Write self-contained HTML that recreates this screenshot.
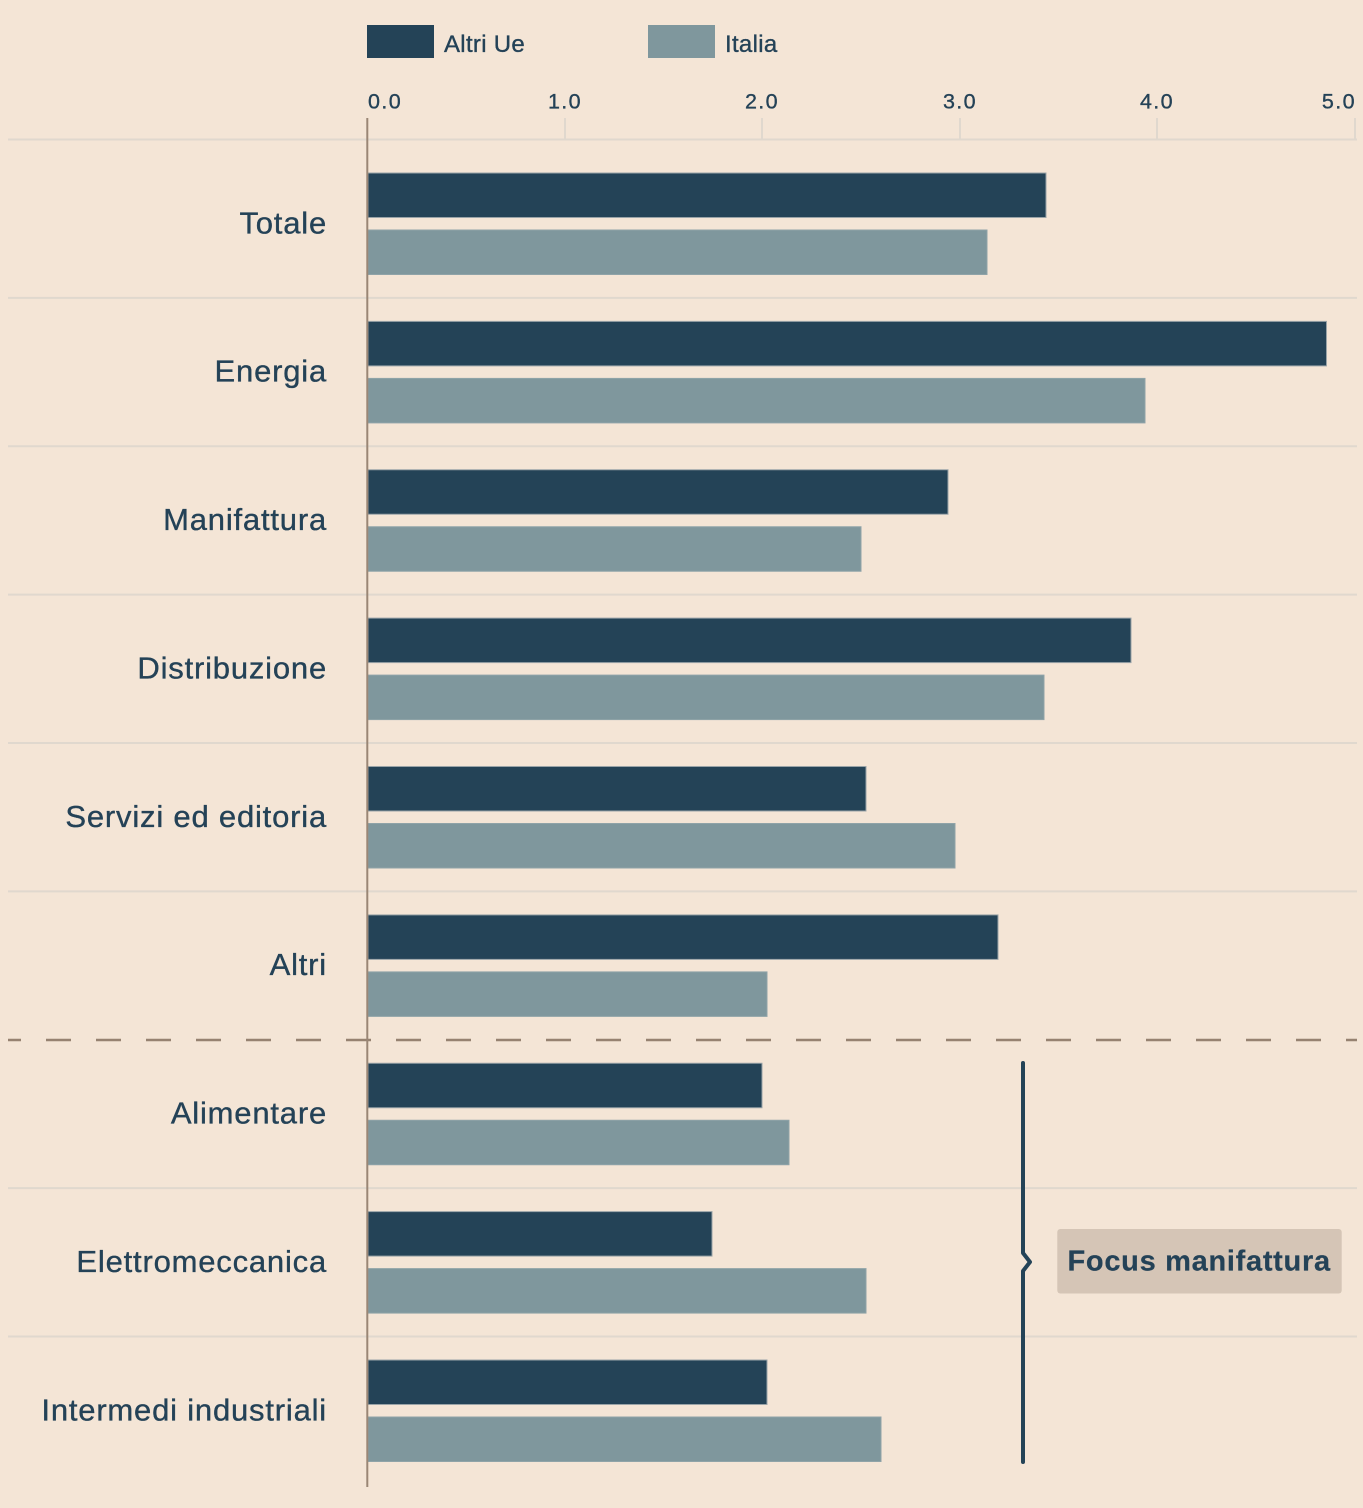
<!DOCTYPE html>
<html><head><meta charset="utf-8"><style>
html,body{margin:0;padding:0;background:#f4e5d6;}
svg{display:block;}
text{font-family:"Liberation Sans",Arial,sans-serif;fill:#244257;stroke:#244257;stroke-width:0.35px;}
.cat{font-size:31px;letter-spacing:0.8px;text-anchor:end;}
.tick{font-size:21.5px;letter-spacing:1.4px;}
.leg{font-size:24px;letter-spacing:0.3px;}
</style></head><body>
<svg width="1363" height="1508" viewBox="0 0 1363 1508" xmlns="http://www.w3.org/2000/svg">
<rect x="0" y="0" width="1363" height="1508" fill="#f4e5d6"/>
<!-- legend -->
<rect x="367" y="25" width="67" height="33" fill="#244357"/>
<text class="leg" x="444" y="52">Altri Ue</text>
<rect x="648" y="25" width="67" height="33" fill="#7f979d"/>
<text class="leg" x="725" y="52">Italia</text>
<!-- tick labels -->
<text class="tick" x="368" y="108.5">0.0</text>
<text class="tick" x="565" y="108.5" text-anchor="middle">1.0</text>
<text class="tick" x="762" y="108.5" text-anchor="middle">2.0</text>
<text class="tick" x="960" y="108.5" text-anchor="middle">3.0</text>
<text class="tick" x="1157" y="108.5" text-anchor="middle">4.0</text>
<text class="tick" x="1356" y="108.5" text-anchor="end">5.0</text>
<!-- tick marks -->
<g stroke="#e0d8ce" stroke-width="2">
<line x1="565" y1="118" x2="565" y2="140"/>
<line x1="762" y1="118" x2="762" y2="140"/>
<line x1="960" y1="118" x2="960" y2="140"/>
<line x1="1157" y1="118" x2="1157" y2="140"/>
<line x1="1355" y1="118" x2="1355" y2="140"/>
</g>
<!-- gridlines -->
<g stroke="#e0d8ce" stroke-width="2">
<line x1="8" y1="139.5" x2="1357" y2="139.5"/>
<line x1="8" y1="297.9" x2="1357" y2="297.9"/>
<line x1="8" y1="446.3" x2="1357" y2="446.3"/>
<line x1="8" y1="594.6" x2="1357" y2="594.6"/>
<line x1="8" y1="743" x2="1357" y2="743"/>
<line x1="8" y1="891.4" x2="1357" y2="891.4"/>
<line x1="8" y1="1188.1" x2="1357" y2="1188.1"/>
<line x1="8" y1="1336.5" x2="1357" y2="1336.5"/>
</g>
<!-- dashed separator -->
<line x1="8" y1="1040" x2="1357" y2="1040" stroke="#968271" stroke-width="2.5" stroke-dasharray="25 25" stroke-dashoffset="12"/>
<!-- bars -->
<g stroke="#9aa4a8" stroke-width="1">
<rect x="368" y="173" width="678" height="44.5" fill="#244357"/>
<rect x="368" y="230" width="619" height="44.5" fill="#7f979d" stroke="#8fa3a8"/>
<rect x="368" y="321.4" width="958.5" height="44.5" fill="#244357"/>
<rect x="368" y="378.4" width="777" height="44.5" fill="#7f979d" stroke="#8fa3a8"/>
<rect x="368" y="469.75" width="580" height="44.5" fill="#244357"/>
<rect x="368" y="526.75" width="493" height="44.5" fill="#7f979d" stroke="#8fa3a8"/>
<rect x="368" y="618.1" width="763" height="44.5" fill="#244357"/>
<rect x="368" y="675.1" width="676" height="44.5" fill="#7f979d" stroke="#8fa3a8"/>
<rect x="368" y="766.5" width="498" height="44.5" fill="#244357"/>
<rect x="368" y="823.5" width="587" height="44.5" fill="#7f979d" stroke="#8fa3a8"/>
<rect x="368" y="914.9" width="630" height="44.5" fill="#244357"/>
<rect x="368" y="971.9" width="399" height="44.5" fill="#7f979d" stroke="#8fa3a8"/>
<rect x="368" y="1063.25" width="394" height="44.5" fill="#244357"/>
<rect x="368" y="1120.25" width="421" height="44.5" fill="#7f979d" stroke="#8fa3a8"/>
<rect x="368" y="1211.6" width="344" height="44.5" fill="#244357"/>
<rect x="368" y="1268.6" width="498" height="44.5" fill="#7f979d" stroke="#8fa3a8"/>
<rect x="368" y="1360" width="399" height="44.5" fill="#244357"/>
<rect x="368" y="1417" width="513" height="44.5" fill="#7f979d" stroke="#8fa3a8"/>
</g>
<!-- zero axis -->
<line x1="367.3" y1="118" x2="367.3" y2="1487" stroke="#9a8675" stroke-width="2"/>
<!-- category labels -->
<text class="cat" x="327" y="233.3">Totale</text>
<text class="cat" x="327" y="381.7">Energia</text>
<text class="cat" x="327" y="530">Manifattura</text>
<text class="cat" x="327" y="678.4">Distribuzione</text>
<text class="cat" x="327" y="826.8">Servizi ed editoria</text>
<text class="cat" x="327" y="975.2">Altri</text>
<text class="cat" x="327" y="1123.5">Alimentare</text>
<text class="cat" x="327" y="1271.9">Elettromeccanica</text>
<text class="cat" x="327" y="1420.5">Intermedi industriali</text>
<!-- brace -->
<path d="M1023 1063 V1253 L1030 1262 L1023 1271 V1462" fill="none" stroke="#244357" stroke-width="4" stroke-linecap="round" stroke-linejoin="round"/>
<!-- focus box -->
<rect x="1057.3" y="1229" width="284.4" height="64.5" rx="3" fill="#d5c5b6"/>
<text x="1067.5" y="1270.7" font-size="29" font-weight="bold" letter-spacing="0.7" style="stroke-width:0.2px">Focus manifattura</text>
</svg>
</body></html>
